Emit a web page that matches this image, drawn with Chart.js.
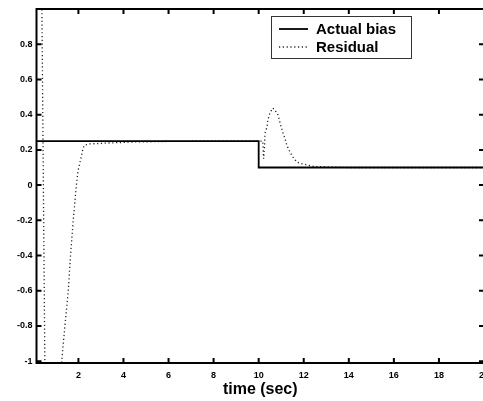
<!DOCTYPE html>
<html>
<head>
<meta charset="utf-8">
<script src="https://cdn.jsdelivr.net/npm/chart.js@4"></script>
<style>
  html, body { margin: 0; padding: 0; background: #fff; overflow: hidden; width: 483px; height: 401px; }
  canvas { display: block; }
</style>
</head>
<body>
<canvas id="chart" width="486" height="401"></canvas>
<script>
// Actual bias (step at t = 10 s)
const BIAS_T = [0.14, 10, 10, 20];
const BIAS_V = [0.25, 0.25, 0.1, 0.1];

// Residual
const RES_T = [0.3, 0.38, 0.51, 0.7, 1.0, 1.2, 1.26, 1.40, 1.55, 1.65, 1.77, 1.91,
               1.98, 2.07, 2.16, 2.2, 2.29, 2.51, 2.82, 3.5, 4.5, 6, 8, 10.18,
               10.22, 10.26, 10.28, 10.37, 10.41, 10.5, 10.63, 10.72, 10.86, 10.94, 11.07, 11.16,
               11.25, 11.39, 11.52, 11.7, 11.97, 12.5, 14, 20];
const RES_V = [1.3, 1.0, -1.0, -1.4, -1.5, -1.2, -1.0, -0.8, -0.6, -0.4, -0.2, 0.0,
               0.08, 0.13, 0.18, 0.21, 0.228, 0.234, 0.236, 0.24, 0.245, 0.248, 0.25, 0.25,
               0.15, 0.22, 0.295, 0.33, 0.37, 0.41, 0.4375, 0.426, 0.398, 0.358, 0.30, 0.267,
               0.227, 0.1875, 0.159, 0.13, 0.12, 0.105, 0.1, 0.1];

const X_TICKS = [2, 4, 6, 8, 10, 12, 14, 16, 18, 20];
const Y_TICKS = [-1, -0.8, -0.6, -0.4, -0.2, 0, 0.2, 0.4, 0.6, 0.8];
const SERIES_NAMES = ['Actual bias', 'Residual'];

const FONT = '"Liberation Sans", Arial, sans-serif';

// box round the axes plus inward tick marks on all four sides
const framePlugin = {
    id: 'frame',
    afterDatasetsDraw(chart) {
        const { ctx, chartArea: a, scales: { x, y } } = chart;
        ctx.save();
        ctx.strokeStyle = '#000';
        ctx.lineWidth = 2;
        ctx.strokeRect(a.left, a.top, a.right - a.left, a.bottom - a.top);
        ctx.beginPath();
        X_TICKS.forEach(v => {
            const px = x.getPixelForValue(v);
            ctx.moveTo(px, a.bottom); ctx.lineTo(px, a.bottom - 5);
            ctx.moveTo(px, a.top); ctx.lineTo(px, a.top + 5);
        });
        Y_TICKS.forEach(v => {
            const py = y.getPixelForValue(v);
            ctx.moveTo(a.left, py); ctx.lineTo(a.left + 5, py);
            ctx.moveTo(a.right, py); ctx.lineTo(a.right - 5, py);
        });
        ctx.stroke();
        ctx.restore();
    }
};

// MATLAB style legend box inside the axes
const legendPlugin = {
    id: 'boxLegend',
    afterDraw(chart) {
        const ctx = chart.ctx;
        const bx = 271, by = 16, bw = 140, bh = 42;
        ctx.save();
        ctx.fillStyle = '#fff';
        ctx.fillRect(bx, by, bw, bh);
        ctx.strokeStyle = '#333';
        ctx.lineWidth = 1;
        ctx.strokeRect(bx + 0.5, by + 0.5, bw, bh);
        ctx.font = 'bold 15px ' + FONT;
        ctx.textBaseline = 'middle';
        ctx.fillStyle = '#000';
        chart.data.datasets.forEach((ds, i) => {
            const ly = by + 13 + i * 18;
            ctx.beginPath();
            ctx.strokeStyle = ds.borderColor;
            ctx.lineWidth = ds.borderWidth;
            ctx.setLineDash(ds.borderDash || []);
            ctx.moveTo(279, ly);
            ctx.lineTo(308, ly);
            ctx.stroke();
            ctx.setLineDash([]);
            ctx.fillText(ds.label, 316, ly + 1);
        });
        ctx.restore();
    }
};

new Chart(document.getElementById('chart'), {
    type: 'line',
    data: {
        datasets: [{
            label: SERIES_NAMES[0],
            data: BIAS_T.map((t, i) => ({ x: t, y: BIAS_V[i] })),
            borderColor: '#000',
            borderWidth: 1.8,
            pointRadius: 0,
            tension: 0
        }, {
            label: SERIES_NAMES[1],
            data: RES_T.map((t, i) => ({ x: t, y: RES_V[i] })),
            borderColor: '#222',
            borderWidth: 1.3,
            borderDash: [1.2, 2.6],
            pointRadius: 0,
            tension: 0
        }]
    },
    options: {
        responsive: false,
        animation: false,
        layout: { padding: { top: 9, right: 2, left: 0, bottom: 0 } },
        plugins: { legend: { display: false }, tooltip: { enabled: false } },
        scales: {
            x: {
                type: 'linear',
                min: 0.14,
                max: 20,
                grid: { display: false, drawTicks: false },
                border: { display: false },
                afterBuildTicks: s => { s.ticks = X_TICKS.map(v => ({ value: v })); },
                afterFit: s => { s.height = 38; s.paddingLeft = 0; s.paddingRight = 0; },
                ticks: {
                    color: '#000',
                    padding: 7,
                    maxRotation: 0,
                    font: { family: FONT, size: 9, weight: 'bold' }
                },
                title: {
                    display: true,
                    text: 'time (sec)',
                    color: '#000',
                    padding: { top: 0, bottom: 2 },
                    font: { family: FONT, size: 16, weight: 'bold' }
                }
            },
            y: {
                min: -1.01,
                max: 1.0,
                grid: { display: false, drawTicks: false },
                border: { display: false },
                afterBuildTicks: s => { s.ticks = Y_TICKS.map(v => ({ value: v })); },
                afterFit: s => { s.width = 36.5; s.paddingTop = 0; s.paddingBottom = 0; },
                ticks: {
                    color: '#000',
                    padding: 4,
                    callback: v => (Math.abs(v) < 1e-9 ? '0' : String(Math.round(v * 10) / 10)),
                    font: { family: FONT, size: 9, weight: 'bold' }
                }
            }
        }
    },
    plugins: [framePlugin, legendPlugin]
});
</script>
</body>
</html>
